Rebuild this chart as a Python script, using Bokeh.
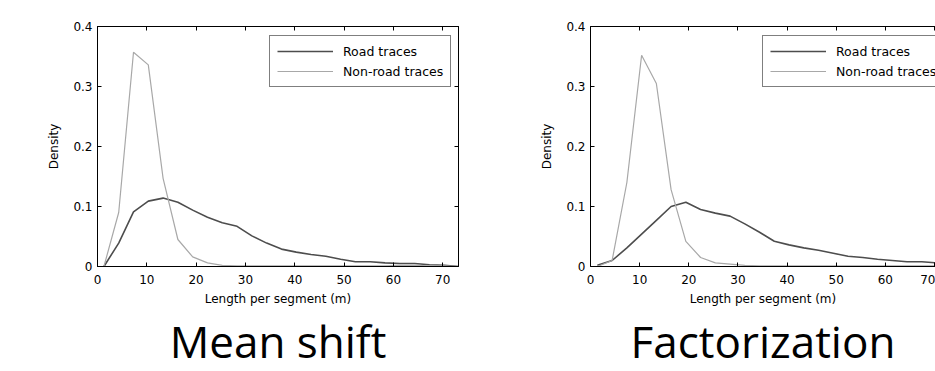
from bokeh.plotting import figure
from bokeh.models import (FixedTicker, LinearAxis, Legend, LegendItem, Range1d,
                          CustomJSTickFormatter)
from bokeh.layouts import row
from bokeh.embed import file_html
from bokeh.resources import INLINE

# ---------------- data ----------------
x_meanshift = [1.3, 4.3, 7.3, 10.3, 13.3, 16.3, 19.3, 22.3, 25.3, 28.3, 31.3, 34.3,
               37.3, 40.3, 43.3, 46.3, 49.3, 52.3, 55.3, 58.3, 61.3, 64.3, 67.3, 70.3, 73.3]
road_meanshift = [0.0, 0.039, 0.091, 0.109, 0.114, 0.107, 0.094, 0.082, 0.073, 0.067,
                  0.051, 0.039, 0.029, 0.024, 0.020, 0.017, 0.012, 0.008, 0.008, 0.006,
                  0.005, 0.005, 0.003, 0.002, 0.0]
nonroad_meanshift = [0.0, 0.090, 0.357, 0.336, 0.147, 0.045, 0.016, 0.006, 0.002, 0.001,
                     0.001, 0.001, 0.001, 0.001, 0.001, 0.001, 0.001, 0.001, 0.001, 0.001,
                     0.002, 0.002, 0.001, 0.001, 0.0]

x_factor = [1.4, 4.4, 7.4, 10.4, 13.4, 16.4, 19.4, 22.4, 25.4, 28.4, 31.4, 34.4,
            37.4, 40.4, 43.4, 46.4, 49.4, 52.4, 55.4, 58.4, 61.4, 64.4, 67.4, 70.4]
road_factor = [0.002, 0.010, 0.031, 0.054, 0.077, 0.100, 0.107, 0.095, 0.089, 0.084,
               0.071, 0.057, 0.042, 0.036, 0.031, 0.027, 0.022, 0.017, 0.015, 0.012,
               0.010, 0.008, 0.008, 0.006]
nonroad_factor = [0.0, 0.010, 0.140, 0.352, 0.305, 0.128, 0.042, 0.015, 0.006, 0.004,
                  0.002, 0.001, 0.001, 0.001, 0.001, 0.001, 0.001, 0.001, 0.001, 0.001,
                  0.001, 0.001, 0.001, 0.001]

x_ticks = [0, 10, 20, 30, 40, 50, 60, 70]
y_ticks = [0, 0.1, 0.2, 0.3, 0.4]
titles = ["Mean shift", "Factorization"]
series_names = ["Road traces", "Non-road traces"]

ROAD_COLOR = "#4d4d4d"
NONROAD_COLOR = "#a8a8a8"
TICK_FONT = "DejaVu Sans"
TITLE_FONT = "Open Sans"


def style_axis(ax, ticks, labels=True):
    ax.ticker = FixedTicker(ticks=ticks)
    ax.major_tick_in = 4
    ax.major_tick_out = 0
    ax.minor_tick_line_color = None
    ax.axis_line_color = "black"
    ax.axis_line_width = 1
    ax.major_tick_line_color = "black"
    ax.major_label_text_font = TICK_FONT
    ax.axis_label_text_font = TICK_FONT
    ax.axis_label_text_font_size = "12px"
    ax.axis_label_text_font_style = "normal"
    ax.axis_label_text_color = "black"
    ax.formatter = CustomJSTickFormatter(code="return tick.toString();")
    ax.major_label_text_font_size = "12px"
    if labels:
        ax.major_label_text_color = "black"
    else:
        ax.major_label_text_color = None
        ax.major_label_standoff = 0


def make_panel(xs, road, nonroad, title, width, border_left, border_right, xmax, box_right):
    p = figure(width=width, height=371, output_backend="svg", toolbar_location=None,
               x_range=Range1d(0, xmax), y_range=Range1d(0, 0.4),
               min_border_left=border_left, min_border_right=border_right,
               min_border_top=26, min_border_bottom=105,
               title=title, title_location="below")
    p.background_fill_color = "white"
    p.border_fill_color = "white"
    p.grid.visible = False
    p.outline_line_color = "black" if box_right else None
    p.outline_line_width = 1

    p.title.text_font = TITLE_FONT
    p.title.text_font_size = "44px"
    p.title.text_font_style = "normal"
    p.title.text_color = "black"
    p.title.align = "center"
    p.title.standoff = 0

    style_axis(p.xaxis[0], x_ticks)
    style_axis(p.yaxis[0], y_ticks)
    p.xaxis[0].axis_label = "Length per segment (m)"
    p.xaxis[0].major_label_standoff = 8
    p.xaxis[0].axis_label_standoff = 5
    p.yaxis[0].axis_label = "Density"
    p.yaxis[0].major_label_standoff = 5
    p.yaxis[0].axis_label_standoff = 9

    top = LinearAxis()
    style_axis(top, x_ticks, labels=False)
    p.add_layout(top, "above")
    if box_right:
        right = LinearAxis()
        style_axis(right, y_ticks, labels=False)
        p.add_layout(right, "right")

    r_road = p.line(xs, road, line_color=ROAD_COLOR, line_width=1.6)
    r_non = p.line(xs, nonroad, line_color=NONROAD_COLOR, line_width=1.2)

    legend = Legend(items=[LegendItem(label=series_names[0], renderers=[r_road]),
                           LegendItem(label=series_names[1], renderers=[r_non])],
                    location=(172, 179))
    legend.border_line_color = "black"
    legend.border_line_width = 1.2
    legend.background_fill_color = "white"
    legend.background_fill_alpha = 1
    legend.padding = 7
    legend.margin = 0
    legend.spacing = 4
    legend.glyph_width = 56
    legend.glyph_height = 16
    legend.label_height = 16
    legend.label_standoff = 10
    legend.label_text_font = TICK_FONT
    legend.label_text_font_size = "12.5px"
    legend.label_text_color = "black"
    p.add_layout(legend)
    return p


p1 = make_panel(x_meanshift, road_meanshift, nonroad_meanshift, titles[0],
                498, 97, 40, 73.2, True)
p2 = make_panel(x_factor, road_factor, nonroad_factor, titles[1],
                437, 92, 0, 70.2, False)

layout = row(p1, p2)
open("out.html", "w").write(file_html(layout, INLINE))
